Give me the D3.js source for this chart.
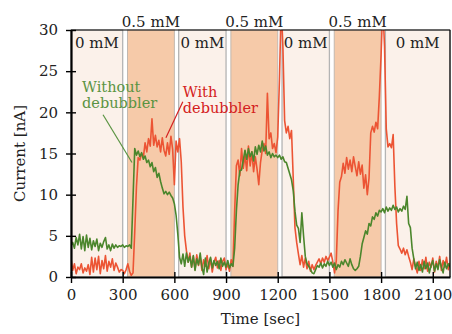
<!DOCTYPE html>
<html>
<head>
<meta charset="utf-8">
<script src="https://cdn.jsdelivr.net/npm/d3@7"></script>
<style>
  body { margin: 0; background: #fff; }
  text { font-family: "DejaVu Serif", serif; }
</style>
</head>
<body>
<div id="chart"></div>
<script>
// time axis in seconds, one sample every 10 s
const times = d3.range(0, 2201, 10);

// with debubbler (red)
const withDebubbler = [
  2.2, 0.8, 1.6, 0.4, 1.2, 0.9, 1.6, 0.5, 1.1, 0.7,
  1.5, 0.3, 2.4, 0.6, 2.3, 0.9, 2.5, 0.4, 2.0, 1.0,
  2.6, 0.7, 1.9, 1.2, 2.2, 0.8, 1.7, 1.2, 0.6, 0.9,
  0.8, 0.4, 0.9, 1.6, 0.7, 0.2, 0.5, 5.5, 11.0, 14.5,
  14.2, 15.0, 14.5, 16.3, 15.2, 16.8, 15.9, 19.2, 16.0, 17.2,
  15.8, 16.6, 15.2, 16.9, 15.4, 14.7, 16.3, 14.9, 17.1, 15.5,
  11.2, 16.5, 15.2, 16.8, 14.0, 8.5, 5.0, 3.2, 1.8, 2.9,
  1.2, 2.5, 0.9, 2.7, 1.4, 2.4, 0.8, 2.1, 1.3, 2.6,
  1.0, 2.2, 0.6, 1.8, 2.4, 1.1, 2.0, 0.8, 1.9, 2.3,
  0.9, 1.6, 0.7, 2.1, 1.3, 8.0, 13.5, 14.2, 12.3, 15.6,
  13.2, 14.8, 12.9, 15.9, 13.5, 15.2, 12.8, 14.6, 13.1, 11.2,
  13.9, 15.4, 16.2, 15.0, 22.3, 16.8, 17.5, 15.6, 16.2, 15.1,
  17.0, 24.0, 33.0, 28.0, 19.0, 17.5, 18.3, 16.8, 17.8, 12.0,
  6.0, 4.2, 2.8, 1.5, 2.6, 1.2, 2.3, 1.0, 1.9, 0.7,
  1.5, 0.9, 1.4, 1.8, 2.2, 1.6, 2.3, 1.8, 2.5, 2.0,
  2.4, 2.9, 1.8, 0.5, 2.0, 8.0, 11.5, 12.2, 13.8, 12.6,
  14.5, 13.1, 14.2, 12.8, 14.6, 13.4, 12.3, 14.0, 12.5, 13.6,
  10.8, 12.4, 10.0, 12.0, 17.5, 18.3, 17.6, 18.8, 18.0, 22.0,
  27.0, 33.0, 28.0, 18.0, 15.8, 16.2, 15.7, 17.3, 11.0, 6.5,
  3.8, 3.4, 2.9, 3.5, 2.7, 3.3, 2.5, 1.8, 0.9, 2.2,
  1.3, 0.5, 1.9, 0.8, 2.1, 1.0, 2.4, 0.7, 1.8, 1.2,
  2.3, 0.6, 1.9, 1.1, 2.5, 0.8, 2.0, 1.2, 2.4, 0.9,
  1.7
];

// without debubbler (green)
const withoutDebubbler = [
  3.8, 4.2, 3.5, 4.8, 3.9, 5.2, 3.4, 4.9, 3.2, 5.1,
  3.6, 4.7, 3.3, 4.4, 3.7, 4.6, 3.2, 4.1, 3.6, 4.3,
  4.8, 3.4, 3.9, 3.2, 4.0, 3.5, 3.9, 3.6, 3.8, 3.7,
  3.9, 3.6, 3.8, 3.7, 3.9, 3.5, 9.5, 15.6, 14.8, 15.3,
  14.6, 15.1, 14.3, 14.7, 13.9, 14.2, 13.4, 13.9, 12.8, 13.3,
  12.1, 12.6, 11.6, 10.8, 10.1, 10.4, 10.0, 10.3, 9.9, 9.6,
  8.9, 7.5, 5.2, 2.4, 1.6, 2.8, 1.3, 2.9, 1.8, 2.5,
  1.2, 2.6, 0.8, 2.2, 1.5, 2.9, 1.2, 0.3, 2.3, 0.6,
  1.7, 2.4, 1.1, 2.0, 1.4, 1.9, 1.0, 2.3, 1.3, 1.8,
  1.2, 2.0, 1.1, 1.6, 1.3, 3.5, 8.0, 11.2, 12.9, 13.0,
  14.2, 15.4, 14.3, 15.6, 14.6, 15.2, 14.1, 15.8, 14.9, 16.0,
  15.2, 16.5, 15.3, 15.9, 14.8, 15.2, 14.5, 15.0, 14.6, 14.8,
  14.5, 14.8, 14.3, 14.6, 14.0, 13.9, 13.2, 12.5, 11.8, 10.5,
  8.0, 6.3, 5.9, 4.2, 7.8, 5.0, 2.5, 1.6, 1.3, 0.9,
  0.5, 0.4, 0.9, 1.4, 1.2, 1.7, 1.1, 1.6, 1.3, 1.9,
  1.4, 1.8, 1.2, 1.7, 0.9, 1.5, 1.2, 1.9, 1.5, 2.1,
  1.7, 1.3, 2.2, 1.5, 1.0, 0.8, 1.0, 1.3, 2.5, 4.0,
  4.8, 5.6, 5.2, 6.5, 6.2, 7.3, 7.0, 7.8, 7.4, 8.1,
  7.9, 8.3, 7.8, 8.5, 8.0, 8.4, 8.1, 8.7, 8.2, 8.5,
  7.9, 8.3, 8.0, 8.6, 8.2, 9.8, 6.5, 6.0, 3.5, 2.2,
  1.0, 1.8, 0.8, 1.5, 0.6, 1.9, 1.0, 1.7, 0.5, 1.4,
  2.0, 0.7, 1.6, 0.9, 2.1, 1.2, 0.5, 1.8, 1.0, 1.6,
  1.2
];

// concentration periods [start, end] in seconds
const zeroPeriods = [[0, 300], [625, 900], [1225, 1500], [1825, 2200]];
const dosePeriods = [[328, 600], [928, 1200], [1528, 1800]];

const xTicks = [0, 300, 600, 900, 1200, 1500, 1800, 2100];
const yTicks = [0, 5, 10, 15, 20, 25, 30];

const width = 452;
const height = 334;
const margin = { top: 30, right: 2, bottom: 57, left: 71 };

const svg = d3.select('#chart')
  .append('svg')
  .attr('width', width)
  .attr('height', height);

const x = d3.scaleLinear()
  .domain([0, 2200])
  .range([margin.left, width - margin.right]);

const y = d3.scaleLinear()
  .domain([0, 30])
  .range([height - margin.bottom, margin.top]);

svg.append('defs').append('clipPath')
  .attr('id', 'plot-clip')
  .append('rect')
  .attr('x', x(0))
  .attr('y', y(30))
  .attr('width', x(2200) - x(0))
  .attr('height', y(0) - y(30));

// background periods
svg.append('g')
  .selectAll('rect')
  .data(zeroPeriods)
  .join('rect')
  .attr('x', d => x(d[0]))
  .attr('y', y(30))
  .attr('width', d => x(d[1]) - x(d[0]))
  .attr('height', y(0) - y(30))
  .attr('fill', '#fbf1ea')
  .attr('stroke', '#b4b4b4')
  .attr('stroke-width', 1.3);

svg.append('g')
  .selectAll('rect')
  .data(dosePeriods)
  .join('rect')
  .attr('x', d => x(d[0]))
  .attr('y', y(30))
  .attr('width', d => x(d[1]) - x(d[0]))
  .attr('height', y(0) - y(30))
  .attr('fill', '#f6caa9')
  .attr('stroke', '#c2b8b0')
  .attr('stroke-width', 1);

// period labels
svg.append('g')
  .selectAll('text')
  .data(zeroPeriods)
  .join('text')
  .attr('x', d => x((d[0] + d[1]) / 2))
  .attr('y', y(30) + 18)
  .attr('text-anchor', 'middle')
  .attr('font-size', '15px')
  .attr('fill', '#222')
  .text('0 mM');

svg.append('g')
  .selectAll('text')
  .data(dosePeriods)
  .join('text')
  .attr('x', d => x((d[0] + d[1]) / 2))
  .attr('y', y(30) - 3)
  .attr('text-anchor', 'middle')
  .attr('font-size', '15px')
  .attr('fill', '#222')
  .text('0.5 mM');

// series
const line = d3.line()
  .x((d, i) => x(times[i]))
  .y(d => y(d));

const lines = svg.append('g').attr('clip-path', 'url(#plot-clip)');

lines.append('path')
  .datum(withDebubbler)
  .attr('fill', 'none')
  .attr('stroke', '#ec5434')
  .attr('stroke-width', 1.6)
  .attr('stroke-linejoin', 'round')
  .attr('d', line);

lines.append('path')
  .datum(withoutDebubbler)
  .attr('fill', 'none')
  .attr('stroke', '#4b862c')
  .attr('stroke-width', 1.6)
  .attr('stroke-linejoin', 'round')
  .attr('d', line);

// annotations: one text per line
function annotate(lbl, t0, v0, t1, v1, tx, ty, color) {
  svg.append('line')
    .attr('x1', x(t0)).attr('y1', y(v0))
    .attr('x2', x(t1)).attr('y2', y(v1))
    .attr('stroke', color)
    .attr('stroke-width', 1.2);
  lbl.forEach((s, i) => {
    svg.append('text')
      .attr('x', x(tx))
      .attr('y', y(ty) + i * 16.5)
      .attr('font-size', '14.5px')
      .attr('fill', color)
      .text(s);
  });
}

annotate(['Without', 'debubbler'], 186, 19.7, 354, 13.9, 64, 22.5, '#5a9442');
annotate(['With', 'debubbler'], 649, 21.3, 551, 16.9, 649, 21.9, '#d42020');

// frame
svg.append('line')
  .attr('x1', x(0)).attr('x2', x(2200))
  .attr('y1', y(30)).attr('y2', y(30))
  .attr('stroke', '#000').attr('stroke-width', 1.2);
svg.append('line')
  .attr('x1', x(2200)).attr('x2', x(2200))
  .attr('y1', y(30)).attr('y2', y(0))
  .attr('stroke', '#000').attr('stroke-width', 1.2);

function xAxis(g) {
  g.attr('transform', `translate(0,${y(0)})`)
    .call(d3.axisBottom(x).tickValues(xTicks).tickFormat(d3.format('d'))
      .tickSizeInner(6).tickSizeOuter(0).tickPadding(6))
    .attr('font-size', '15px')
    .attr('font-family', '"DejaVu Serif", serif');
  g.select('.domain').attr('stroke-width', 2.2);
  g.selectAll('.tick line').attr('y1', -5).attr('stroke-width', 1.4);
  g.selectAll('.tick text').attr('fill', '#222');
}

function yAxis(g) {
  g.attr('transform', `translate(${x(0)},0)`)
    .call(d3.axisLeft(y).tickValues(yTicks).tickSizeInner(5).tickSizeOuter(0).tickPadding(8))
    .attr('font-size', '15px')
    .attr('font-family', '"DejaVu Serif", serif');
  g.select('.domain').attr('stroke-width', 2.2);
  g.selectAll('.tick line').attr('x1', 5).attr('stroke-width', 1.4);
  g.selectAll('.tick text').attr('fill', '#222');
}

svg.append('g').call(xAxis);
svg.append('g').call(yAxis);

svg.append('text')
  .attr('x', (x(0) + x(2200)) / 2)
  .attr('y', 324)
  .attr('text-anchor', 'middle')
  .attr('font-size', '15px')
  .attr('fill', '#222')
  .text('Time [sec]');

svg.append('text')
  .attr('transform', `translate(25,${(y(0) + y(30)) / 2}) rotate(-90)`)
  .attr('text-anchor', 'middle')
  .attr('font-size', '15px')
  .attr('fill', '#222')
  .text('Current [nA]');
</script>
</body>
</html>
